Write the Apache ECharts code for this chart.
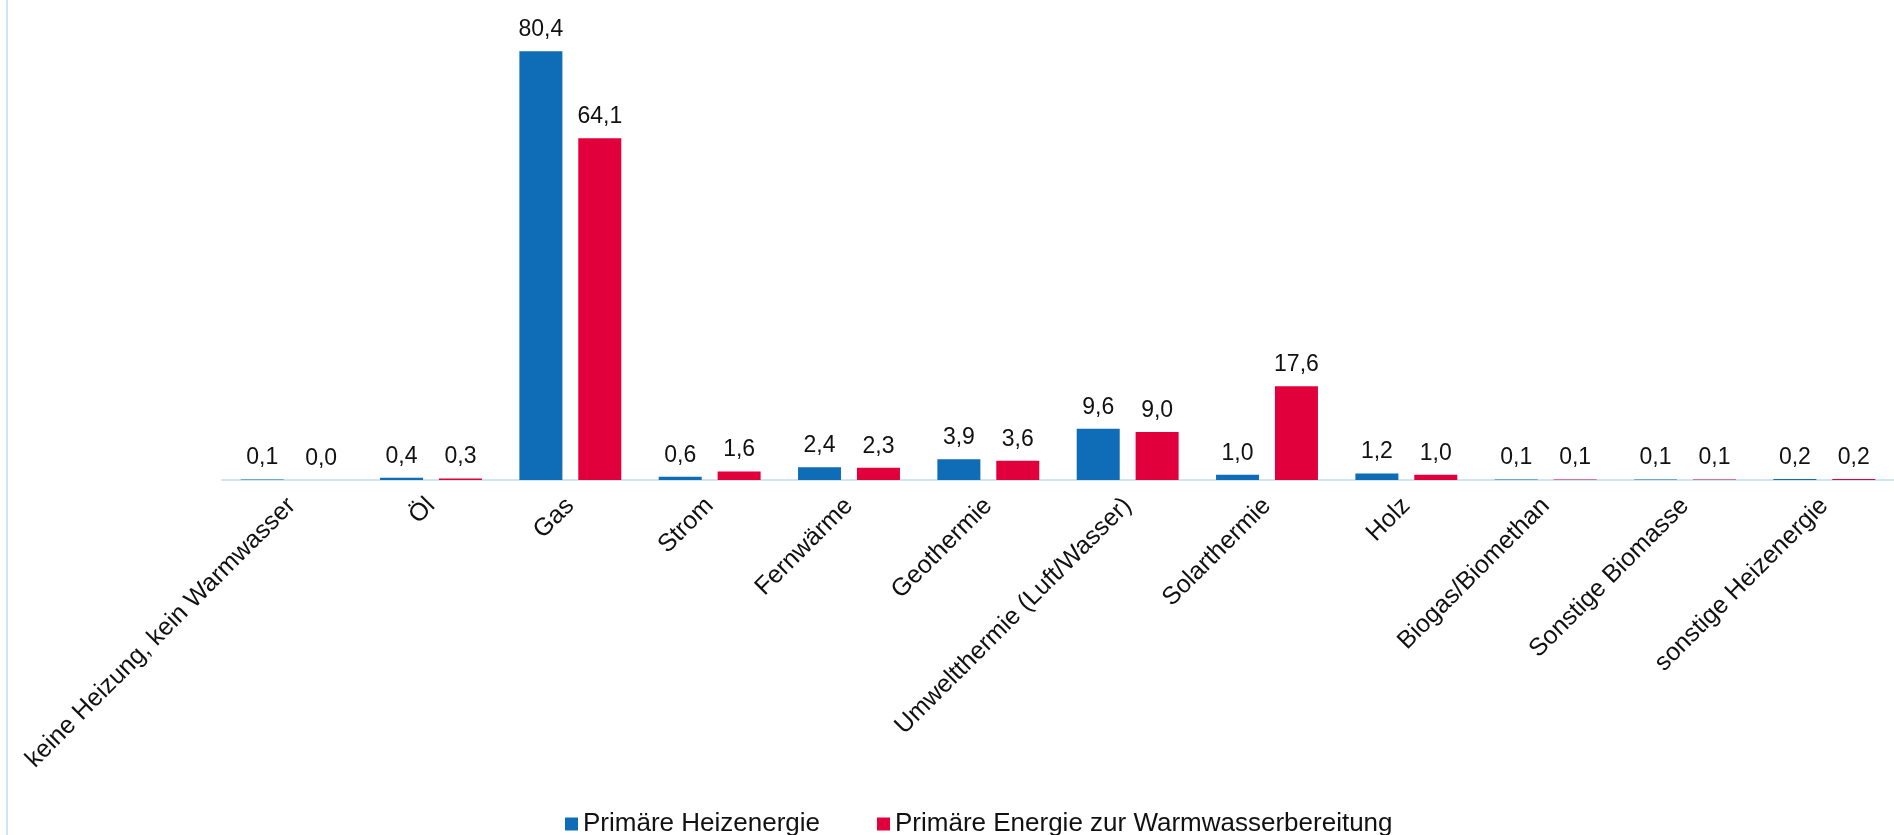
<!DOCTYPE html>
<html>
<head>
<meta charset="utf-8">
<script src="https://cdn.jsdelivr.net/npm/echarts@6/dist/echarts.min.js"></script>
<style>
html,body{margin:0;padding:0;background:#fff;}
#c{width:1894px;height:835px;}
</style>
</head>
<body>
<div id="c"></div>
<script>
const categories = ['keine Heizung, kein Warmwasser','Öl','Gas','Strom','Fernwärme','Geothermie','Umweltthermie (Luft/Wasser)','Solarthermie','Holz','Biogas/Biomethan','Sonstige Biomasse','sonstige Heizenergie'];
const seriesNames = ['Primäre Heizenergie','Primäre Energie zur Warmwasserbereitung'];
const heizen = [0.1,0.4,80.4,0.6,2.4,3.9,9.6,1.0,1.2,0.1,0.1,0.2];
const warmwasser = [0.0,0.3,64.1,1.6,2.3,3.6,9.0,17.6,1.0,0.1,0.1,0.2];

const FONT = "Liberation Sans, Arial, Helvetica, sans-serif";
const fmt = p => p.value.toFixed(1).replace('.', ',');
const labelCfg = {show:true, position:'top', distance:10, formatter:fmt, fontFamily:FONT, fontSize:23, color:'#111'};

const chart = echarts.init(document.getElementById('c'), null, {renderer:'canvas'});
chart.setOption({
  animation:false,
  backgroundColor:'#fff',
  grid:{left:222, right:0, top:0, bottom:355, containLabel:false},
  legend:{
    left:560, top:806, itemWidth:13, itemHeight:13, itemGap:57,
    icon:'rect',
    textStyle:{fontFamily:FONT, fontSize:26, color:'#111'},
    data:seriesNames
  },
  xAxis:{
    type:'category', data:categories,
    axisLine:{show:true, lineStyle:{color:'#cfe4f7', width:2}},
    axisTick:{show:false},
    axisLabel:{rotate:45, interval:0, margin:22, fontFamily:FONT, fontSize:25, color:'#111'}
  },
  yAxis:{type:'value', min:0, max:90, show:false, splitLine:{show:false}},
  graphic:[{type:'line', shape:{x1:7, y1:0, x2:7, y2:835}, style:{stroke:'#cfe4f7', lineWidth:2}}],
  series:[
    {name:seriesNames[0], type:'bar', data:heizen, barWidth:43, barGap:'37%', itemStyle:{color:'#0f6cb6'}, label:labelCfg},
    {name:seriesNames[1], type:'bar', data:warmwasser, barWidth:43, barGap:'37%', itemStyle:{color:'#e1003c'}, label:labelCfg}
  ]
});
</script>
</body>
</html>
